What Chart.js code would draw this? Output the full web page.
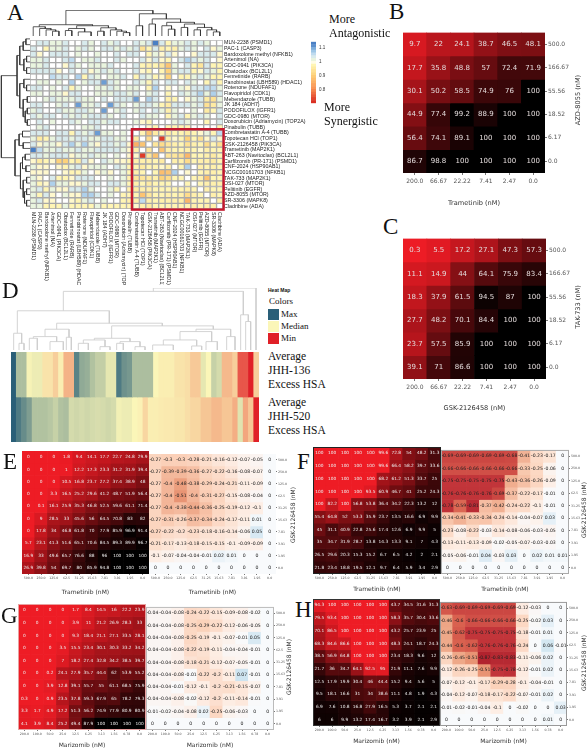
<!DOCTYPE html>
<html>
<head>
<meta charset="utf-8">
<title>Drug synergy heat maps</title>
<script src="https://cdn.jsdelivr.net/npm/chart.js@4"></script>
<style>
  html, body { margin: 0; padding: 0; background: #fff; }
  #page { position: relative; width: 588px; height: 750px; overflow: hidden; }
  #page canvas { position: absolute; }
  .cap { position: absolute; white-space: nowrap; color: #111; font-family: "Liberation Serif", serif; line-height: 1; }
  .swatch { position: absolute; width: 11px; height: 11px; }
</style>
</head>
<body>
<div id="page"></div>
<script>
// ====== Panel A ======
const drugNames = ['MLN-2238 (PSMD1)', 'PAC-1 (CASP3)', 'Bardoxolone methyl (NFKB1)', 'Artenimol (NA)', 'GDC-0941 (PIK3CA)',
    'Obatoclax (BCL2L1)', 'Fenretinide (RARB)', 'Panobinostat (LBH589) (HDAC1)', 'Rotenone (NDUFAF1)', 'Flavopiridol (CDK1)',
    'Mebendazole (TUBB)', 'JK 184 (ADH7)', 'PODOFILOX (IGFR1)', 'GDC-0980 (MTOR)', 'Doxorubicin (Adriamycin) (TOP2A)',
    'Pinabulin (TUBB)', 'Combretastatin A-4 (TUBB)', 'Topotecan HCl (TOP1)', 'GSK-2126458 (PIK3CA)', 'Trametinib (MAP2K1)',
    'ABT-263 (Navitoclax) (BCL2L1)', 'Carfilzomib (PR-171) (PSMD1)', 'CNF-2024 (HSP90AB1)', 'NCGC00161703 (NFKB1)', 'TAK-733 (MAP2K1)',
    'OSI-027 (MTOR)', 'Pelitinib (EGFR)', 'AZD-8055 (MTOR)', 'SR-3306 (MAPK8)', 'Cladribine (ADA)'];

const synergyPct = [
    [100,103,103,101,101,103,100,100,103,101,100,103,101,103,100,100,103,101,103,112,103,97,101,101,103,101,103,101,100,100],
    [103,100,97,101,101,103,100,101,103,101,100,103,103,101,103,101,103,93,97,103,96,97,96,101,103,101,100,103,98,101],
    [103,98,100,103,103,103,100,101,100,100,101,100,100,103,100,103,103,100,97,101,98,103,98,100,100,98,103,103,103,98],
    [101,101,103,100,100,103,105,100,101,101,103,100,100,103,101,100,100,103,98,103,98,97,100,103,106,103,101,103,100,98],
    [101,101,103,100,100,98,103,101,100,101,101,101,103,100,100,100,103,97,96,97,94,88,101,100,103,97,94,103,97,97],
    [103,103,103,103,98,100,103,100,103,98,101,103,101,103,100,100,103,98,97,100,97,90,101,103,103,97,98,103,101,97],
    [100,100,100,105,103,103,100,106,97,103,101,100,101,101,103,100,97,103,101,97,98,90,100,97,97,101,103,101,97,97],
    [100,101,101,100,101,100,106,100,101,103,103,110,103,101,100,100,103,101,97,103,100,103,103,100,103,101,100,97,103,97],
    [103,103,100,101,100,103,97,101,100,100,101,101,103,101,100,101,101,100,97,106,100,98,100,101,98,103,103,105,105,101],
    [101,101,100,101,101,98,103,103,100,100,101,101,101,103,103,101,103,100,101,103,100,97,100,103,101,103,106,101,106,103],
    [100,100,101,103,101,101,101,103,101,101,100,103,100,103,103,103,110,100,106,103,100,96,97,100,98,101,103,95,93,101],
    [103,103,100,100,101,103,100,110,101,101,103,100,110,103,101,100,101,103,103,101,97,95,103,103,103,101,103,93,95,101],
    [101,103,100,100,103,101,101,103,103,101,100,110,100,101,103,100,101,103,100,103,101,96,101,100,100,101,100,95,97,103],
    [103,101,103,103,100,103,101,103,101,103,103,103,101,100,103,100,100,103,101,101,100,97,101,103,97,101,103,101,100,103],
    [100,103,100,101,100,100,103,101,100,103,103,101,103,103,100,100,101,98,97,100,100,100,101,103,101,100,100,97,100,103],
    [100,101,103,100,100,100,100,100,101,101,103,100,100,100,100,100,100,100,98,97,100,97,97,97,97,100,100,100,100,97],
    [103,103,103,100,103,103,97,103,101,103,110,101,101,100,101,100,100,97,88,95,97,95,97,97,95,97,98,101,97,105],
    [101,95,97,101,103,103,101,103,103,101,101,103,103,101,101,100,95,100,92,100,72,96,98,97,90,97,93,98,103,98],
    [103,98,101,101,98,103,106,101,106,101,98,103,103,101,103,98,85,88,100,94,92,94,96,97,93,96,97,92,97,93],
    [112,105,101,101,103,101,101,103,101,101,103,103,103,103,101,98,96,100,94,100,88,96,97,97,96,97,98,96,97,97],
    [103,103,101,103,103,103,98,101,101,103,101,101,100,101,100,98,98,72,94,88,100,94,94,93,86,97,97,96,95,97],
    [98,95,97,98,90,90,97,95,103,98,100,103,101,98,98,97,96,96,96,97,95,100,96,96,92,97,96,96,95,97],
    [101,98,98,100,98,97,101,103,98,101,101,101,100,103,101,97,97,95,97,97,98,96,100,97,106,100,96,97,96,97],
    [98,98,98,100,100,98,97,97,101,100,98,101,98,100,101,97,96,97,100,97,87,88,106,100,98,100,97,96,96,97],
    [101,98,100,103,97,97,98,103,103,103,100,100,101,100,101,96,94,94,95,96,90,92,97,97,100,97,96,88,97,97],
    [101,97,98,106,101,101,98,98,101,103,103,100,103,103,101,97,96,97,95,97,97,97,100,100,97,100,97,96,96,96],
    [101,103,97,101,98,98,103,103,106,101,100,100,101,97,100,96,95,96,96,97,97,97,97,97,96,97,100,96,97,97],
    [101,97,103,98,100,101,98,98,106,106,103,100,101,100,97,97,97,88,94,97,97,96,97,96,92,96,97,100,96,97],
    [101,103,98,98,100,100,98,97,101,103,100,101,100,100,97,96,96,105,96,97,96,96,96,96,86,97,97,97,100,96],
    [101,101,97,97,97,101,97,97,97,97,101,97,97,97,97,97,98,96,95,97,97,97,97,97,97,96,97,96,96,100]
];

// dendrogram links: [leaf or node a, leaf or node b, height a, height b, join height]
const topTreeLinks = [
    [5.08,18.6,33,65,75], [0.94,9.22,27,30,33], [0,1.875,0,22,27], [1,2.75,0,18,22], [2,3.5,0,14,18], [3,4,0,0,14],
    [6.75,11.69,22,24,30], [5.5,8,16,12,22], [5,6,0,0,16], [7,9,0,0,12], [10.5,12.875,14,18,24], [10,11,0,0,14],
    [12,13.75,0,14,18], [13,14.5,0,10,14], [14,15,0,0,10],
    [16.5,20.7,30,50,65], [16,17,0,0,30], [18.5,22.9,35,40,50], [18,19,0,0,35], [20.75,25.06,30,35,40], [20,21.5,0,20,30],
    [21,22,0,0,20], [23.5,26.625,25,25,35], [23,24,0,0,25], [25.5,27.75,18,18,25], [25,26,0,0,18], [27,28.5,0,12,18], [28,29,0,0,12]
];
const sideTreeLinks = [
    [6.375,20.6,38,44,84], [2.875,9.875,30,30,38], [1.25,4.5,20,18,30], [0.5,2,12,0,20], [0,1,0,0,12], [3.5,5.5,10,10,18],
    [3,4,0,0,10], [5,6,0,0,10], [7.75,12,18,20,30], [7,8.5,0,10,18], [8,9,0,0,10], [10.5,13.5,8,14,20], [10,11,0,0,8],
    [12.5,14.5,8,8,14], [12,13,0,0,8], [14,15,0,0,8],
    [17.5,23.75,32,28,44], [16.5,18.5,22,20,32], [16,17,0,0,22], [18,19,0,0,20], [21.5,26,22,20,28], [20.5,22.5,14,12,22],
    [20,21,0,0,14], [22,23,0,0,12], [24.5,27.5,10,16,20], [24,25,0,0,10], [26.5,28.5,10,10,16], [26,27,0,0,10], [28,29,0,0,10]
];

const colorbarLevels = [0.70,0.72,0.74,0.76,0.78,0.80,0.82,0.84,0.86,0.88,0.90,0.92,0.94,0.96,0.98,1.00,1.02,1.04,1.06,1.08,1.10,1.12];
const colorbarTicks = [0.8, 0.9, 1, 1.1];

// ====== Panels B, C ======
const trametinibDoses6 = ['200.0', '66.67', '22.22', '7.41', '2.47', '0.0'];
const gskDoses6 = ['200.0', '66.67', '22.22', '7.41', '2.47', '0.0'];
const partnerDoses6 = ['500.0', '166.67', '55.56', '18.52', '6.17', '0.0'];

const viabilityB = [
    [9.7, 22, 24.1, 38.7, 46.5, 48.1],
    [17.7, 35.8, 48.8, 57, 72.4, 71.9],
    [30.1, 50.2, 58.5, 74.9, 76, 100],
    [44.9, 77.4, 99.2, 88.9, 100, 100],
    [56.4, 74.1, 89.1, 100, 100, 100],
    [86.7, 98.8, 100, 100, 100, 100]
];
const viabilityC = [
    [0.3, 5.5, 17.2, 27.1, 47.3, 57.3],
    [11.1, 14.9, 44, 64.1, 75.9, 83.4],
    [18.3, 37.9, 61.5, 94.5, 87, 100],
    [27.7, 48.2, 70.1, 84.4, 100, 100],
    [23.7, 57.5, 85.9, 100, 100, 100],
    [39.1, 71, 86.6, 100, 100, 100]
];

// ====== Panel D ======
const excessJHH136 = [1, .45, .45, .03, .08, .08, -.12, -.12, -.25, -.05, -.42, -.42, .8, .58, .55, .42, .32, .32, .12, .12, .85, .72, .68, .45,
    .45, .45, .45, 0, -.05, -.05, -.05, -.12, -.12, -.15, -.28, -.28, .12, 0, .3, .22, -.38, -.38, -.25, -.8, -.8, -1, -.25];
const excessJHH520 = [1, .85, .75, .65, .42, .42, .42, .38, .3, .42, .45, .22, .25, .22, .25, .22, .2, .22, .25, .22, .05, .08, .08, 0,
    -.03, -.2, -.05, -.05, -.07, -.08, -.08, -.1, -.1, -.15, -.2, -.2, -.3, -.3, -.38, -.38, -.3, -.3, -.45, .15, -.5, -.3, -1];
// link heights and positions read in the dendrogram's own units
const cellLineTreeLinks = [
    [460,768,175,0,185], [190,730,117,105,175], [52,328,50,80,117], [41,65,0,20,50], [57,72,0,0,20], [170,487,62,72,80],
    [135,207,40,38,62], [199,214,0,0,38], [100,170,35,25,40], [88,112,0,0,35], [150,190,0,0,25],
    [335,640,35,62,72], [283,390,30,25,35], [250,315,20,10,30], [235,265,0,0,20], [300,330,0,0,10], [360,420,20,10,25],
    [350,370,0,0,20], [405,435,0,0,10], [588,692,55,40,62], [540,635,30,25,55], [490,590,15,12,30], [458,520,0,0,15],
    [575,605,0,0,12], [618,652,0,0,25], [680,705,0,0,40], [722,745,0,85,105], [737,752,0,0,85]
];

// ====== Panels E to H ======
const gskDoses10 = ['500.0', '250.0', '125.0', '62.5', '31.25', '15.63', '7.81', '3.91', '1.95', '0.0'];
const trametinibDoses10 = ['500.0', '250.0', '125.0', '62.5', '31.25', '15.63', '7.81', '3.91', '1.95', '0.0'];
const marizomibDoses10 = ['200.0', '100.0', '50.0', '25.0', '12.5', '6.25', '3.13', '1.56', '0.78', '0.0'];

const viabilityE = [
    [0, 0, 0, 1.8, 9.4, 14.1, 17.7, 22.7, 24.8, 29.9],
    [0, 0, 0, 1, 12.2, 17.3, 23.3, 31.2, 31.9, 39.4],
    [0, 0, 0, 10.5, 16.8, 23.7, 27.2, 37.4, 38.9, 48],
    [0, 0, 3.3, 16.5, 25.2, 29.6, 41.2, 48.7, 51.9, 56.4],
    [0, 0.1, 16.1, 25.9, 35.3, 46.8, 52.5, 59.6, 61.1, 71.4],
    [0, 9, 28.5, 33, 45.6, 56, 64.5, 70.8, 83, 82],
    [0, 17.8, 34, 46.8, 61.8, 70, 77.9, 85.9, 96.9, 91.4],
    [5.7, 23.1, 41.3, 51.6, 65.1, 70.6, 84.5, 89.3, 89.9, 96.7],
    [16.9, 33, 49.6, 65.7, 76.6, 88, 96, 100, 100, 100],
    [26.9, 39.8, 54, 69.7, 80, 85.9, 94.8, 100, 100, 100]
];
const excessE = [
    [-0.27, -0.3, -0.3, -0.28, -0.21, -0.16, -0.12, -0.07, -0.05, 0],
    [-0.27, -0.39, -0.39, -0.36, -0.27, -0.22, -0.16, -0.08, -0.07, 0],
    [-0.27, -0.4, -0.48, -0.38, -0.29, -0.24, -0.21, -0.11, -0.09, 0],
    [-0.27, -0.4, -0.51, -0.4, -0.31, -0.27, -0.15, -0.08, -0.04, 0],
    [-0.27, -0.4, -0.38, -0.44, -0.36, -0.25, -0.19, -0.12, -0.1, 0],
    [-0.27, -0.31, -0.26, -0.37, -0.34, -0.24, -0.17, -0.11, 0.01, 0],
    [-0.27, -0.22, -0.2, -0.23, -0.18, -0.16, -0.14, -0.06, 0.05, 0],
    [-0.21, -0.17, -0.13, -0.18, -0.15, -0.15, -0.1, -0.09, -0.09, 0],
    [-0.1, -0.07, -0.04, -0.04, -0.01, 0.02, 0.01, 0, 0, 0],
    [0, 0, 0, 0, 0, 0, 0, 0, 0, 0]
];
const viabilityF = [
    [100, 100, 100, 100, 100, 99.6, 72.8, 54, 48.2, 31.3],
    [100, 100, 100, 100, 100, 99.6, 66.4, 58.2, 39.7, 33.6],
    [100, 100, 100, 100, 100, 68.2, 61.2, 51.3, 33.7, 25],
    [100, 100, 100, 100, 93.5, 60.9, 46.7, 41, 25.2, 24.3],
    [100, 82.2, 100, 56.8, 53.8, 36.4, 34.2, 22.3, 13.2, 12],
    [55.4, 64.8, 52, 53.3, 35.9, 23.7, 13.5, 16.6, 6.9, 9.9],
    [45, 31.1, 40.9, 22.8, 25.6, 17.4, 12.6, 6.9, 9.9, 5],
    [35, 34.7, 31.9, 28.7, 13.8, 14.3, 13.3, 9.1, 7, 4.3],
    [26.5, 29.6, 20.3, 15.3, 15.2, 6.7, 6.5, 4.2, 2, 2.1],
    [21.8, 23.4, 18.8, 19.5, 12.1, 9.7, 6.4, 5.9, 3.4, 2.9]
];
const excessF = [
    [-0.69, -0.69, -0.69, -0.69, -0.69, -0.68, -0.41, -0.23, -0.17, 0],
    [-0.66, -0.66, -0.66, -0.66, -0.66, -0.66, -0.33, -0.25, -0.06, 0],
    [-0.75, -0.75, -0.75, -0.75, -0.75, -0.43, -0.36, -0.26, -0.09, 0],
    [-0.76, -0.76, -0.76, -0.76, -0.69, -0.37, -0.22, -0.17, -0.01, 0],
    [-0.78, -0.59, -0.81, -0.37, -0.42, -0.24, -0.22, -0.1, -0.01, 0],
    [-0.34, -0.41, -0.33, -0.34, -0.24, -0.14, -0.04, -0.07, 0.03, 0],
    [-0.23, -0.08, -0.22, -0.03, -0.14, -0.08, -0.06, -0.03, -0.05, 0],
    [-0.13, -0.11, -0.13, -0.09, -0.02, -0.05, -0.07, -0.03, -0.03, 0],
    [-0.05, -0.06, -0.01, 0.04, -0.03, 0.03, 0, 0.02, 0.01, 0.01],
    [0, 0, 0, 0, 0, 0, 0, 0, 0, 0]
];
const viabilityG = [
    [0, 0, 0, 0, 1.7, 8.4, 14.5, 16, 22.2, 23.9],
    [0, 0, 0, 0, 3.9, 11, 21.2, 26.9, 28.3, 33],
    [0, 0, 0, 0, 9.3, 18.4, 21.1, 27.1, 33.5, 28.1],
    [0, 0, 0, 3.5, 15.5, 23.4, 30.1, 30.3, 33.2, 34.2],
    [0, 0, 0, 7, 18.2, 27.4, 32.8, 34.2, 38.5, 39.7],
    [0, 0, 0.2, 24.1, 27.9, 35.7, 44.4, 62, 53.9, 55.2],
    [0, 0, 3.9, 12.8, 39.1, 55.7, 55, 61.1, 68.5, 75.9],
    [0.3, 0, 0.9, 23.5, 37.8, 59.3, 67.9, 65, 78.2, 79.3],
    [3.3, 1.7, 4.9, 17.2, 51.3, 56.2, 74.9, 77.9, 80.9, 80.9],
    [4.1, 3.9, 8.4, 25.2, 49.4, 87.9, 100, 100, 100, 100]
];
const excessG = [
    [-0.04, -0.04, -0.08, -0.24, -0.22, -0.15, -0.09, -0.08, -0.02, 0],
    [-0.04, -0.04, -0.08, -0.25, -0.29, -0.22, -0.12, -0.06, -0.05, 0],
    [-0.04, -0.04, -0.08, -0.25, -0.19, -0.1, -0.07, -0.01, 0.05, 0],
    [-0.04, -0.04, -0.08, -0.22, -0.19, -0.11, -0.04, -0.04, -0.01, 0],
    [-0.04, -0.04, -0.08, -0.18, -0.21, -0.12, -0.07, -0.05, -0.01, 0],
    [-0.04, -0.04, -0.08, -0.01, -0.22, -0.2, -0.11, 0.07, -0.01, 0],
    [-0.04, -0.04, -0.01, -0.12, -0.1, -0.2, -0.21, -0.15, -0.07, 0],
    [-0.04, -0.04, -0.08, -0.02, -0.12, -0.2, -0.11, -0.14, -0.01, 0],
    [-0.01, -0.02, -0.04, -0.08, 0.02, -0.25, -0.06, -0.03, 0, 0],
    [0, 0, 0, 0, 0, 0, 0, 0, 0, 0]
];
const viabilityH = [
    [94.3, 100, 100, 100, 100, 100, 43.7, 34.5, 31.6, 31.3],
    [79.5, 93.4, 100, 100, 100, 100, 58.3, 35.7, 30.4, 33.6],
    [70.1, 86.5, 100, 100, 100, 100, 43.2, 25.7, 23.9, 25],
    [68.3, 84.6, 86.6, 100, 100, 100, 48.3, 24.1, 18.7, 24.3],
    [38.5, 56.9, 64.8, 100, 100, 100, 23.4, 18.3, 9.6, 12],
    [21.7, 36, 34.7, 64.1, 92.5, 95, 21.9, 11.1, 7.6, 9.9],
    [12.5, 17.9, 19.9, 30.4, 46, 44.4, 15.2, 9.4, 5.6, 5],
    [9.5, 18.1, 16.6, 31, 34, 38.6, 11.1, 4.8, 1.9, 4.3],
    [6.9, 7.6, 10.8, 16.8, 27.9, 16.5, 5.3, 3.7, 2.1, 2.1],
    [6, 6, 9.9, 13.2, 17.4, 16.7, 3.2, 3.9, 2.1, 2.9]
];
const excessH = [
    [-0.63, -0.69, -0.69, -0.69, -0.69, -0.69, -0.12, -0.03, 0, 0],
    [-0.46, -0.6, -0.66, -0.66, -0.66, -0.66, -0.25, -0.02, 0.03, 0],
    [-0.45, -0.62, -0.75, -0.75, -0.75, -0.75, -0.18, -0.01, 0.01, 0],
    [-0.44, -0.6, -0.62, -0.76, -0.76, -0.76, -0.24, 0, 0.06, -0.01],
    [-0.26, -0.45, -0.51, -0.87, -0.83, -0.83, -0.11, -0.06, 0.02, 0],
    [-0.12, -0.26, -0.25, -0.51, -0.75, -0.78, -0.12, -0.01, 0.02, 0],
    [-0.07, -0.12, -0.1, -0.17, -0.29, -0.28, -0.1, -0.04, -0.01, 0],
    [-0.04, -0.12, -0.07, -0.18, -0.17, -0.22, -0.07, -0.01, 0.02, 0],
    [-0.01, -0.02, -0.01, -0.04, -0.1, 0, -0.02, 0, 0, 0.03],
    [0, 0, 0, 0, 0, 0, 0, 0, 0.01, 0]
];

// ====== Couleurs ======
const synergyRamp = [[0.70, '#d7261e'], [0.80, '#f88e52'], [0.90, '#fdd27a'], [0.97, '#fff5b4'], [1.00, '#ffffff'],
    [1.01, '#e9f4de'], [1.04, '#cfe5f3'], [1.08, '#8dbbe2'], [1.12, '#4a7fc4']];
const excessRamp = [[-1, '#e02028'], [-0.5, '#f3a67e'], [0, '#fbf6b8'], [0.5, '#a3b89c'], [1, '#2a5f78']];
const hsaRamp = [[-1, '#9e1020'], [-0.75, '#c2353a'], [-0.6, '#d9614f'], [-0.5, '#ea9a78'], [-0.3, '#fbd0b8'], [-0.1, '#fdeee5'],
    [0, '#f8fafc'], [0.05, '#d8e9f3'], [0.1, '#c0ddeb']];
const viabilityRamp = [[0, '#ee1c25'], [100, '#000000']];

function hexToRgb(hex) {
    return [1, 3, 5].map(i => parseInt(hex.slice(i, i + 2), 16));
}

function rampColor(ramp, v) {
    if (v <= ramp[0][0]) return ramp[0][1];
    for (let i = 1; i < ramp.length; i++) {
        if (v <= ramp[i][0]) {
            const t = (v - ramp[i - 1][0]) / (ramp[i][0] - ramp[i - 1][0]);
            const a = hexToRgb(ramp[i - 1][1]);
            const b = hexToRgb(ramp[i][1]);
            return 'rgb(' + a.map((c, k) => Math.round(c + (b[k] - c) * t)).join(',') + ')';
        }
    }
    return ramp[ramp.length - 1][1];
}

// ====== Helpers ======
const page = document.getElementById('page');

function addCanvas(x, y, w, h) {
    const c = document.createElement('canvas');
    c.style.left = x + 'px';
    c.style.top = y + 'px';
    c.style.width = w + 'px';
    c.style.height = h + 'px';
    c.width = w;
    c.height = h;
    page.appendChild(c);
    return c;
}

function caption(text, x, y, size, extra) {
    const d = document.createElement('div');
    d.className = 'cap';
    d.textContent = text;
    d.style.left = x + 'px';
    d.style.top = y + 'px';
    d.style.fontSize = size + 'px';
    d.style.transform = 'translateY(-50%)';
    if (extra) Object.assign(d.style, extra);
    page.appendChild(d);
}

// y title reading upwards, centred on (x, y)
function sideTitle(text, x, y, size) {
    caption(text, x, y, size, {
        fontFamily: '"DejaVu Sans"', color: '#333',
        transform: 'translate(-50%, -50%) rotate(-90deg)'
    });
}

const baseOptions = {
    responsive: false,
    animation: false,
    devicePixelRatio: 1,
    layout: { padding: 0 },
    plugins: { legend: { display: false }, tooltip: { enabled: false } }
};

// A grid drawn as floating bars, one dataset per row
function heatChart(box, colLabels, rows, colorOf, o) {
    o = o || {};
    const right = o.right || 0;
    const bottom = o.bottom || 0;
    const canvas = addCanvas(box.x, box.y, Math.ceil(box.w + right), Math.ceil(box.h + bottom));
    const tickFont = { family: o.family || 'DejaVu Sans', size: o.tickSize || 3.2 };
    const tickColor = o.tickColor || '#555';
    const yLabels = o.yLabels;
    const plugins = [];
    if (o.cellFont) {
        plugins.push({
            id: 'cellText',
            afterDatasetsDraw(chart) {
                const ctx = chart.ctx;
                ctx.save();
                ctx.font = o.cellFont;
                ctx.fillStyle = o.cellColor;
                ctx.textAlign = 'center';
                ctx.textBaseline = 'middle';
                rows.forEach((row, r) => row.forEach((v, c) => {
                    ctx.fillText(String(v), chart.scales.x.getPixelForValue(c), chart.scales.y.getPixelForValue(r + 0.5));
                }));
                ctx.restore();
            }
        });
    }
    if (o.frame) {
        plugins.push({
            id: 'frame',
            afterDatasetsDraw(chart) {
                const a = chart.chartArea;
                chart.ctx.save();
                chart.ctx.strokeStyle = o.frame;
                chart.ctx.lineWidth = 1;
                chart.ctx.strokeRect(a.left + 0.5, a.top + 0.5, a.right - a.left - 1, a.bottom - a.top - 1);
                chart.ctx.restore();
            }
        });
    }
    if (o.extraPlugin) plugins.push(o.extraPlugin);

    return new Chart(canvas, {
        type: 'bar',
        data: {
            labels: colLabels,
            datasets: rows.map((row, r) => ({
                data: row.map(() => [r, r + 1]),
                backgroundColor: row.map(colorOf),
                borderColor: o.cellBorder || 'transparent',
                borderWidth: o.cellBorder ? 1 : 0,
                borderSkipped: false,
                barPercentage: 1,
                categoryPercentage: 1,
                grouped: false
            }))
        },
        options: {
            ...baseOptions,
            scales: {
                x: {
                    type: 'category',
                    offset: true,
                    display: !!o.xTicks,
                    grid: { offset: false, drawOnChartArea: false, tickLength: o.tickLength === undefined ? 2 : o.tickLength, color: '#777' },
                    border: { display: false },
                    ticks: { font: tickFont, color: tickColor, padding: o.xPad === undefined ? 1 : o.xPad, maxRotation: 0, minRotation: 0, autoSkip: false },
                    title: { display: !!o.xTitle, text: o.xTitle, font: { family: 'DejaVu Sans', size: o.titleSize || 6 }, color: '#333', padding: 0 },
                    afterFit: s => { s.height = bottom; }
                },
                y: {
                    type: 'linear',
                    min: 0,
                    max: rows.length,
                    reverse: true,
                    position: 'right',
                    display: !!yLabels,
                    grid: { drawOnChartArea: false, tickLength: o.tickLength === undefined ? 2 : o.tickLength, color: '#777' },
                    border: { display: false },
                    afterBuildTicks: s => { s.ticks = rows.map((_, r) => ({ value: r + 0.5 })); },
                    ticks: {
                        font: tickFont, color: tickColor, padding: 1, autoSkip: false,
                        callback: (v, i) => (yLabels ? yLabels[i] : '')
                    },
                    afterFit: s => { s.width = right; }
                }
            }
        },
        plugins: plugins
    });
}

// Dendrogram: each link is one small line dataset going through the scales
function treeChart(box, links, xRange, yRange, color, sideways, width) {
    const canvas = addCanvas(box.x, box.y, Math.ceil(box.w), Math.ceil(box.h));
    const datasets = links.map(l => {
        const pts = [[l[0], l[2]], [l[0], l[4]], [l[1], l[4]], [l[1], l[3]]];
        return {
            data: pts.map(p => (sideways ? { x: p[1], y: p[0] } : { x: p[0], y: p[1] })),
            showLine: true,
            borderColor: color,
            borderWidth: width,
            pointRadius: 0,
            clip: false
        };
    });
    const leaf = { min: xRange[0], max: xRange[1], display: false };
    const height = { min: yRange[0], max: yRange[1], display: false };
    return new Chart(canvas, {
        type: 'scatter',
        data: { datasets: datasets },
        options: {
            ...baseOptions,
            scales: sideways
                ? { x: { ...height, type: 'linear', reverse: true }, y: { ...leaf, type: 'linear', reverse: true } }
                : { x: { ...leaf, type: 'linear' }, y: { ...height, type: 'linear' } }
        }
    });
}

// ====== Panel A ======
const synergyColor = pct => rampColor(synergyRamp, pct / 100);

heatChart({ x: 30, y: 36, w: 193, h: 173 }, drugNames, synergyPct, synergyColor, {
    right: 88,
    bottom: 76,
    xTicks: false,
    yLabels: drugNames,
    family: 'Liberation Sans',
    tickSize: 5.3,
    tickColor: '#222',
    tickLength: 0,
    cellBorder: '#a9a9a9',
    extraPlugin: {
        id: 'drugLabels',
        afterDatasetsDraw(chart) {
            const ctx = chart.ctx;
            const x = chart.scales.x;
            const y = chart.scales.y;
            ctx.save();
            // the box around the synergistic cluster
            ctx.strokeStyle = '#c4172c';
            ctx.lineWidth = 2.4;
            const left = x.getPixelForValue(15.5) - 1;
            const top = y.getPixelForValue(16) - 1;
            ctx.strokeRect(left, top, x.getPixelForValue(29.5) + 0.6 - left, y.getPixelForValue(30) + 0.6 - top);
            // column names read downwards
            ctx.font = '5.3px "Liberation Sans"';
            ctx.fillStyle = '#222';
            ctx.textAlign = 'left';
            ctx.textBaseline = 'middle';
            drugNames.forEach((name, i) => {
                ctx.save();
                ctx.translate(x.getPixelForValue(i), chart.chartArea.bottom + 3);
                ctx.rotate(Math.PI / 2);
                ctx.fillText(name, 0, 0);
                ctx.restore();
            });
            ctx.restore();
        }
    }
});
treeChart({ x: 30, y: 10, w: 193, h: 26 }, topTreeLinks, [-0.5, 29.5], [0, 76], '#333', false, 0.8);
treeChart({ x: 0, y: 36, w: 30, h: 173 }, sideTreeLinks, [-0.5, 29.5], [0, 88], '#333', true, 0.8);

// colour key
new Chart(addCanvas(311, 36, 20, 73), {
    type: 'bar',
    data: {
        labels: [''],
        datasets: colorbarLevels.map(l => ({
            data: [[l, l + 0.02]],
            backgroundColor: rampColor(synergyRamp, l + 0.01),
            barPercentage: 1,
            categoryPercentage: 1,
            grouped: false
        }))
    },
    options: {
        ...baseOptions,
        scales: {
            x: { display: false },
            y: {
                type: 'linear',
                min: 0.70,
                max: 1.14,
                position: 'right',
                grid: { drawOnChartArea: false, drawTicks: false },
                border: { display: false },
                afterBuildTicks: s => { s.ticks = colorbarTicks.map(v => ({ value: v })); },
                ticks: { font: { family: 'Liberation Sans', size: 4.5 }, color: '#333', padding: 3, callback: v => String(v) },
                afterFit: s => { s.width = 15; }
            }
        }
    }
});

// ====== Panels B, C ======
const viabilityColor = v => rampColor(viabilityRamp, v);
const inverseViabilityColor = v => rampColor(viabilityRamp, 100 - v);
const hsaColor = v => rampColor(hsaRamp, v);

heatChart({ x: 403, y: 28, w: 142, h: 145 }, trametinibDoses6, viabilityB, viabilityColor, {
    right: 38, bottom: 34, xTicks: true, yLabels: partnerDoses6, xTitle: 'Trametinib (nM)', titleSize: 6.6,
    tickSize: 6, xPad: 3, cellFont: '7px "DejaVu Sans"', cellColor: '#e4dcdc'
});
heatChart({ x: 403, y: 234, w: 143, h: 145 }, gskDoses6, viabilityC, viabilityColor, {
    right: 38, bottom: 33, xTicks: true, yLabels: partnerDoses6, xTitle: 'GSK-2126458 (nM)', titleSize: 6.6,
    tickSize: 6, xPad: 3, cellFont: '7px "DejaVu Sans"', cellColor: '#e4dcdc'
});

// ====== Panel D ======
const excessColor = v => rampColor(excessRamp, v);
const cellLineColumns = excessJHH136.map((_, i) => String(i + 1));
heatChart({ x: 11, y: 352, w: 248, h: 90 }, cellLineColumns, [excessJHH136, excessJHH520], excessColor);
treeChart({ x: 11, y: 288, w: 248, h: 62 }, cellLineTreeLinks, [33, 777], [0, 185], '#cfcfcf', false, 0.9);

// ====== Panels E to H ======
function pairedPanel(leftRows, rightRows, leftColor, xLabels, title, p) {
    const cell = { xTicks: true, xTitle: title, bottom: p.bottom, tickSize: 3.2, tickLength: 1 };
    heatChart({ x: p.x, y: p.y, w: p.w, h: p.h }, xLabels, leftRows, leftColor, {
        ...cell, cellFont: '4.3px "DejaVu Sans"', cellColor: '#eee', frame: p.leftFrame
    });
    heatChart({ x: p.x + p.w + (p.gap || 0), y: p.y, w: p.w, h: p.h }, xLabels, rightRows, hsaColor, {
        ...cell, right: 16, yLabels: gskDoses10, cellFont: '4.6px "DejaVu Sans"', cellColor: '#222', frame: p.rightFrame
    });
}

pairedPanel(viabilityE, excessE, viabilityColor, trametinibDoses10, 'Trametinib (nM)', { x: 22, y: 451, w: 127, h: 123, bottom: 22 });
pairedPanel(viabilityF, excessF, inverseViabilityColor, trametinibDoses10, 'Trametinib (nM)', { x: 313, y: 447, w: 128, h: 127, bottom: 19, leftFrame: '#222', rightFrame: '#aaa' });
pairedPanel(viabilityG, excessG, viabilityColor, marizomibDoses10, 'Marizomib (nM)', { x: 18, y: 604, w: 128, h: 126, bottom: 19, leftFrame: '#e9a0a0', rightFrame: '#bbb' });
pairedPanel(viabilityH, excessH, inverseViabilityColor, marizomibDoses10, 'Marizomib (nM)', { x: 313, y: 599, w: 127, h: 127, bottom: 19, leftFrame: '#333', rightFrame: '#999' });

// ====== Texts ======
caption('A', 7, 12, 23);
caption('B', 389, 11, 23);
caption('C', 383, 226, 23);
caption('D', 2, 290, 23);
caption('E', 3, 461, 23);
caption('F', 297, 461, 23);
caption('G', 1, 615, 23);
caption('H', 295, 609, 23);

caption('More', 329, 19, 12);
caption('Antagonistic', 329, 33, 12);
caption('More', 324, 107, 12);
caption('Synergistic', 324, 121, 12);

caption('Heat Map', 268, 290, 5, { fontFamily: '"Liberation Sans"', fontWeight: 'bold' });
caption('Colors', 269, 301, 9);
[['Max', '#2a5f78', 314], ['Median', '#fbf6b8', 326], ['Min', '#e02028', 338]].forEach(k => {
    const s = document.createElement('div');
    s.className = 'swatch';
    s.style.left = '268px';
    s.style.top = (k[2] - 5.5) + 'px';
    s.style.background = k[1];
    page.appendChild(s);
    caption(k[0], 281, k[2], 9);
});

caption('Average', 268, 357, 11.5);
caption('JHH-136', 268, 371, 11.5);
caption('Excess HSA', 268, 385, 11.5);
caption('Average', 268, 403, 11.5);
caption('JHH-520', 268, 417, 11.5);
caption('Excess HSA', 268, 431, 11.5);

sideTitle('AZD-8055 (nM)', 578, 100, 6.6);
sideTitle('TAK-733 (nM)', 578, 307, 6.6);
sideTitle('GSK-2126458 (nM)', 293, 515, 6);
sideTitle('GSK-2126458 (nM)', 584, 510, 6);
sideTitle('GSK-2126458 (nM)', 289, 667, 6);
sideTitle('GSK-2126458 (nM)', 584, 663, 6);
</script>
</body>
</html>
